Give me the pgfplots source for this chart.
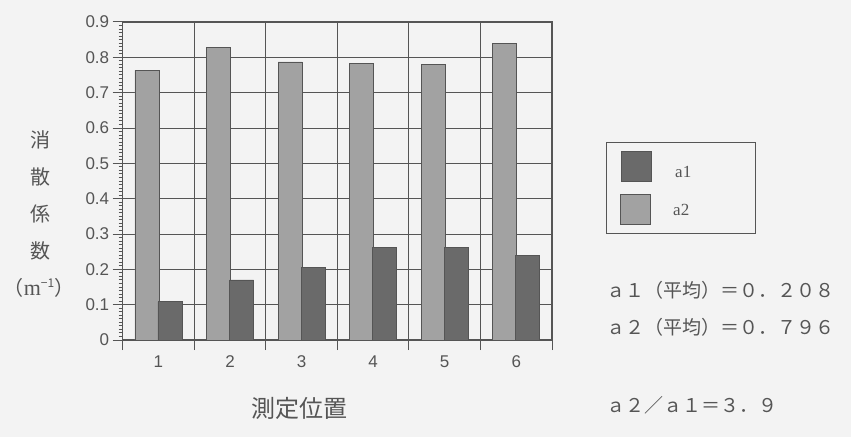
\documentclass[border=0pt]{standalone}
\usepackage{pgfplots}
\pgfplotsset{compat=1.18}
\usepackage{fontspec}
\setmainfont{Liberation Sans}
\newfontfamily\jp{Noto Sans CJK JP}
\newfontfamily\lserif{Liberation Serif}

\definecolor{bg}{HTML}{F3F3F3}
\definecolor{ink}{HTML}{555555}
\definecolor{barlight}{HTML}{A2A2A2}
\definecolor{bardark}{HTML}{6A6A6A}

\begin{document}
\begin{tikzpicture}[x=1pt,y=1pt]
\fill[bg] (0,0) rectangle (851,437);
\useasboundingbox (0,0) rectangle (851,437);
\begin{axis}[
    at={(122.7pt,97pt)}, anchor=south west,
    scale only axis,
    width=429.3pt, height=318pt,
    xmin=0.5, xmax=6.5, ymin=0, ymax=0.9,
    ybar=-1pt, bar width=24pt,
    xtick={0.5,1.5,2.5,3.5,4.5,5.5,6.5}, xticklabels={},
    extra x ticks={1,2,3,4,5,6},
    extra x tick labels={1,2,3,4,5,6},
    extra x tick style={major tick length=0pt, grid=none,
        xticklabel style={yshift=-12pt}},
    ytick={0,0.1,0.2,0.3,0.4,0.5,0.6,0.7,0.8,0.9},
    minor y tick num=9,
    xmajorgrids, ymajorgrids,
    tick pos=left, tick align=outside,
    major tick length=10pt, minor tick length=4pt,
    axis line style={ink, line width=1.2pt},
    grid style={ink, line width=1pt},
    tick style={ink, line width=1pt},
    yticklabel style={/pgf/number format/fixed, /pgf/number format/precision=1},
    /pgf/number format/assume math mode=true,
    ticklabel style={font=\fontsize{17}{19}\selectfont, text=ink},
]
% a2
\addplot[fill=barlight, draw=ink, line width=0.8pt] coordinates {
    (1,0.763) (2,0.829) (3,0.787) (4,0.782) (5,0.781) (6,0.840)
};
% a1
\addplot[fill=bardark, draw=ink, line width=0.8pt] coordinates {
    (1,0.108) (2,0.170) (3,0.206) (4,0.262) (5,0.262) (6,0.239)
};
\end{axis}

% y label, stacked
\begin{scope}[every node/.style={font=\jp\fontsize{20}{20}\selectfont, text=ink}]
\node at (40,297) {消};
\node at (40,260) {散};
\node at (40,223) {係};
\node at (40,186) {数};
\node at (39,149) {（{\lserif\fontsize{22}{22}\selectfont m}\raisebox{8pt}{\fontsize{12}{12}\selectfont −1}）};
\end{scope}

% x label
\node[font=\jp\fontsize{24}{24}\selectfont, text=ink] at (299,29) {測定位置};

% legend
\draw[ink, line width=1pt] (606,204) rectangle (755,294);
\filldraw[fill=bardark, draw=ink] (621,256) rectangle (651,286);
\filldraw[fill=barlight, draw=ink] (620,213) rectangle (650,243);
\node[font=\lserif\fontsize{17}{17}\selectfont, text=ink, anchor=west, inner sep=0] at (675,265) {a1};
\node[font=\lserif\fontsize{17}{17}\selectfont, text=ink, anchor=west, inner sep=0] at (673,227) {a2};

% notes
\begin{scope}[every node/.style={font=\jp\fontsize{19}{20}\selectfont, text=ink, anchor=west, inner sep=0}]
\node at (606,147) {ａ１（平均）＝０．２０８};
\node at (606,110) {ａ２（平均）＝０．７９６};
\node at (606,32) {ａ２／ａ１＝３．９};
\end{scope}
\end{tikzpicture}
\end{document}
